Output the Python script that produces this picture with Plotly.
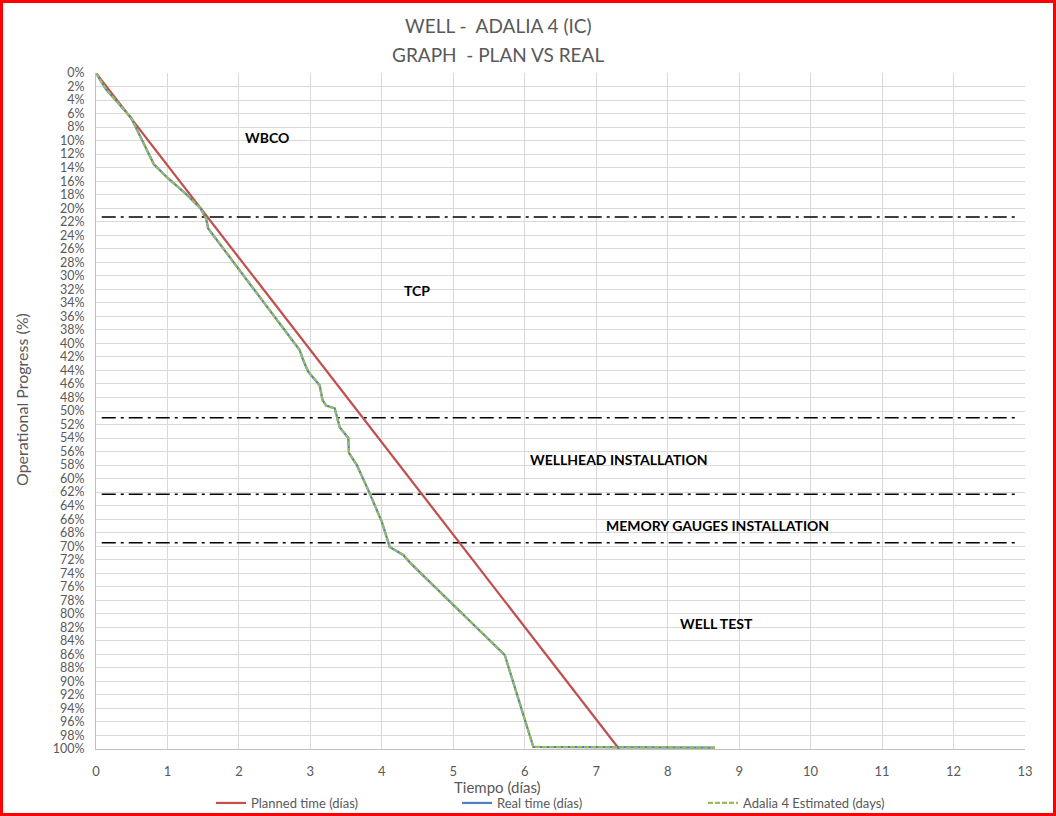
import plotly.graph_objects as go

# ---- data ----
planned_days = [0, 1.56, 3.73, 4.56, 5.08, 7.32]
planned_pct = [0, 21.3, 51.0, 62.3, 69.5, 100]

real_days = [0, 0.07, 0.14, 0.49, 0.62, 0.69, 0.81, 1.01, 1.25, 1.46, 1.54, 1.55, 1.57,
             2.85, 2.90, 2.97, 3.13, 3.17, 3.22, 3.34, 3.41, 3.53, 3.54, 3.65, 3.81,
             4.00, 4.11, 4.30, 4.40, 5.72, 6.12, 8.66]
real_pct = [0, 1.2, 2.4, 6.6, 9.4, 10.9, 13.5, 15.6, 17.8, 20.0, 21.5, 22.0, 23.0,
            41.0, 42.5, 44.2, 46.2, 48.4, 49.2, 49.6, 52.4, 54.0, 56.2, 58.0, 61.7,
            66.4, 70.1, 71.3, 72.5, 86.1, 99.7, 99.8]
estimated_days = list(real_days)
estimated_pct = list(real_pct)

phase_limits = [21.3, 51.0, 62.3, 69.5]
phase_line_days = [0.08, 12.9]

phase_names = ["WBCO", "TCP", "WELLHEAD INSTALLATION", "MEMORY GAUGES INSTALLATION", "WELL TEST"]
phase_label_days = [2.39, 4.49, 7.32, 8.70, 8.68]
phase_label_pct = [9.6, 32.1, 57.2, 66.9, 81.4]

x_ticks = list(range(0, 14))
y_ticks = list(range(0, 101, 2))

FONT = "Lato"
GRAY = "#595959"

fig = go.Figure()

for i, lim in enumerate(phase_limits):
    fig.add_trace(go.Scatter(
        x=phase_line_days, y=[lim, lim], mode="lines",
        line=dict(color="#000000", width=1.5, dash="14px,5px,3px,5px"),
        showlegend=False, hoverinfo="skip"))

fig.add_trace(go.Scatter(
    x=planned_days, y=planned_pct, mode="lines", name="Planned time (días)",
    line=dict(color="#C0504D", width=2.25)))
fig.add_trace(go.Scatter(
    x=real_days, y=real_pct, mode="lines", name="Real time (días)",
    line=dict(color="#4F81BD", width=2.25)))
fig.add_trace(go.Scatter(
    x=estimated_days, y=estimated_pct, mode="lines", name="Adalia 4 Estimated (days)",
    line=dict(color="#9BBB59", width=2.25, dash="5px,2px")))

for name, xd, yd in zip(phase_names, phase_label_days, phase_label_pct):
    fig.add_annotation(x=xd, y=yd, xref="x", yref="y", text="<b>" + name + "</b>",
                       showarrow=False, font=dict(family=FONT, size=14, color="#000000"))

# Titles
fig.add_annotation(x=(498 - 96) / 929, y=(749 - 25) / 676, xref="paper", yref="paper",
                   text="WELL -  ADALIA 4 (IC)", showarrow=False,
                   font=dict(family=FONT, size=19, color=GRAY), yanchor="middle")
fig.add_annotation(x=(498 - 96) / 929, y=(749 - 55) / 676, xref="paper", yref="paper",
                   text="GRAPH  - PLAN VS REAL", showarrow=False,
                   font=dict(family=FONT, size=19, color=GRAY), yanchor="middle")
fig.add_annotation(x=(497 - 96) / 929, y=(749 - 787) / 676, xref="paper", yref="paper",
                   text="Tiempo (días)", showarrow=False,
                   font=dict(family=FONT, size=15, color=GRAY), yanchor="middle")
fig.add_annotation(x=(21 - 96) / 929, y=(749 - 400) / 676, xref="paper", yref="paper",
                   text="Operational Progress (%)", showarrow=False, textangle=-90,
                   font=dict(family=FONT, size=16, color=GRAY), xanchor="center", yanchor="middle")

# red frame around the chart
fig.add_shape(type="rect", xref="paper", yref="paper",
              x0=(1.5 - 96) / 929, x1=(1054.5 - 96) / 929,
              y0=(749 - 814.5) / 676, y1=(749 - 1.5) / 676,
              line=dict(color="#FF0000", width=3))

fig.update_xaxes(range=[0, 13], tickvals=x_ticks, ticktext=[str(v) for v in x_ticks],
                 showgrid=True, gridcolor="#D9D9D9", gridwidth=1,
                 showline=True, linecolor="#BFBFBF", linewidth=1, zeroline=False,
                 tickfont=dict(family=FONT, size=13, color=GRAY), ticklabelstandoff=10)
fig.update_yaxes(range=[100, 0], tickvals=y_ticks, ticktext=[f"{v}%" for v in y_ticks],
                 showgrid=True, gridcolor="#D9D9D9", gridwidth=1,
                 showline=True, linecolor="#BFBFBF", linewidth=1, zeroline=False,
                 tickfont=dict(family=FONT, size=12.5, color=GRAY), ticklabelstandoff=8)

fig.update_layout(
    width=1056, height=816,
    margin=dict(l=96, r=31, t=73, b=67, autoexpand=False),
    paper_bgcolor="white", plot_bgcolor="white",
    font=dict(family=FONT, color=GRAY),
    legend=dict(orientation="h", x=(580 - 96) / 929, xanchor="center",
                y=(749 - 803) / 676, yanchor="middle",
                entrywidth=201, entrywidthmode="pixels",
                font=dict(family=FONT, size=13, color=GRAY),
                bgcolor="rgba(0,0,0,0)"),
)

fig.write_html("out.html")
